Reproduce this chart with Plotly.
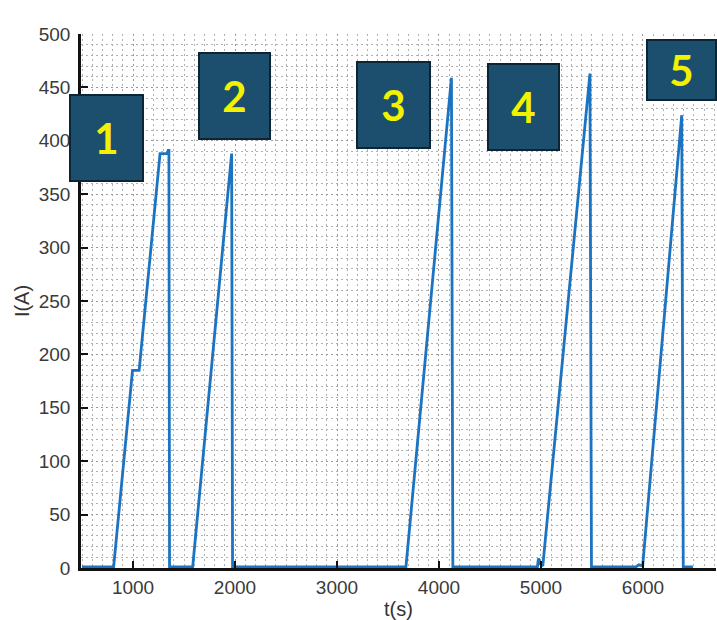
import plotly.graph_objects as go

# Data
t_s = [500, 810, 995, 1060, 1265, 1335, 1345, 1352, 1358, 1585, 1967, 1976, 1985,
       3676, 4122, 4136, 4965, 4975, 4990, 5018, 5480, 5495, 5505, 5930, 5960, 5997,
       6380, 6395, 6490]
I_A = [1, 1, 185, 185, 388, 388, 391, 391, 1, 1, 388, 1, 1,
       1, 459, 1, 1, 9, 4, 2, 463, 1, 1, 1, 3, 2,
       424, 1, 1]

labels = ["1", "2", "3", "4", "5"]
label_x = [740, 1995, 3554, 4828, 6377]
label_y = [402.6, 442, 433.5, 431.6, 466]
label_w = [71, 69, 71, 69, 67]
label_h = [84, 84, 84, 84, 58]

x_ticks = [1000, 2000, 3000, 4000, 5000, 6000]
y_ticks = [0, 50, 100, 150, 200, 250, 300, 350, 400, 450, 500]

fig = go.Figure()
fig.add_trace(go.Scatter(x=t_s, y=I_A, mode="lines",
                         line=dict(color="#1c74c0", width=2.8), showlegend=False))

for lab, x, y, w, h in zip(labels, label_x, label_y, label_w, label_h):
    fig.add_annotation(x=x, y=y, xref="x", yref="y", text="<b>" + lab + "</b>",
                       showarrow=False, width=w, height=h, align="center", valign="middle",
                       bgcolor="#1b4f6d", bordercolor="#0c2535", borderwidth=2, borderpad=0,
                       font=dict(family="Lato", size=42, color="#f2f200"))

grid_common = dict(showgrid=True, gridcolor="#9a9a9a", griddash="2px,3px", gridwidth=1)

fig.update_xaxes(range=[490, 6716], tickvals=x_ticks, ticks="inside", ticklen=7,
                 tickwidth=2, tickcolor="#111", showline=True, linecolor="#111", linewidth=2.5,
                 zeroline=False, title=dict(text="t(s)", font=dict(size=20, color="#333"),
                                            standoff=8),
                 tickfont=dict(family="Liberation Sans", size=19, color="#3a3a3a"),
                 minor=dict(dtick=100, tick0=0, showgrid=True, gridcolor="#b0b0b0",
                            griddash="2px,3px", gridwidth=1),
                 **grid_common)
fig.update_yaxes(range=[0, 500], tickvals=y_ticks, ticks="inside", ticklen=7,
                 tickwidth=2, tickcolor="#111", showline=True, linecolor="#111", linewidth=2.5,
                 zeroline=False, ticklabelstandoff=4,
                 title=dict(text="I(A)", font=dict(size=20, color="#333"), standoff=4),
                 tickfont=dict(family="Liberation Sans", size=19, color="#3a3a3a"),
                 minor=dict(dtick=10, tick0=0, showgrid=True, gridcolor="#b0b0b0",
                            griddash="2px,3px", gridwidth=1),
                 **grid_common)

fig.update_layout(width=717, height=620, margin=dict(l=81, r=1, t=34, b=52),
                  plot_bgcolor="white", paper_bgcolor="white",
                  font=dict(family="Liberation Sans"))

fig.write_html("out.html")
